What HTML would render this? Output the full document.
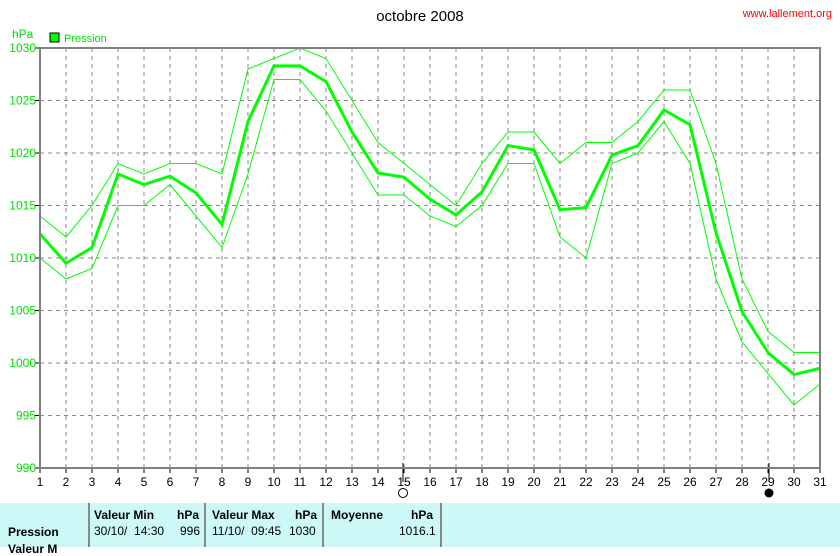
<!DOCTYPE html><html><head><style>
body{margin:0;background:#fff;width:840px;height:547px;overflow:hidden;font-family:"Liberation Sans",sans-serif;position:relative}
.t{position:absolute;font-size:12px;white-space:nowrap}
</style></head><body>
<svg width="840" height="547" style="position:absolute;left:0;top:0" id="s">
<rect x="0" y="503" width="840" height="44" fill="#ccf8f8"/>
<g stroke="#888" stroke-width="2"><line x1="89" y1="503" x2="89" y2="547"/><line x1="205" y1="503" x2="205" y2="547"/><line x1="323" y1="503" x2="323" y2="547"/><line x1="441" y1="503" x2="441" y2="547"/></g>
<g id="g"></g>
<rect x="40" y="48" width="780" height="420" fill="none" stroke="#808080" stroke-width="2"/>
<rect x="50" y="33" width="9" height="9" fill="#00ff00" stroke="#000"/>
<circle cx="403" cy="493" r="4.5" fill="#fff" stroke="#000"/>
<circle cx="769" cy="493" r="4.5" fill="#000"/>
<text x="420" y="21" font-size="15" text-anchor="middle" font-family="Liberation Sans">octobre 2008</text>
<text x="832" y="17" font-size="11" text-anchor="end" fill="#ff0000" font-family="Liberation Sans">www.lallement.org</text>
<text x="64" y="42" font-size="11" fill="#00e000" font-family="Liberation Sans">Pression</text>
<text x="12" y="38" font-size="12" fill="#00e000" font-family="Liberation Sans">hPa</text>
<g id="l" font-size="12" font-family="Liberation Sans"></g>
</svg>
<div class="t" style="left:94px;top:508px;font-weight:bold">Valeur Min</div>
<div class="t" style="left:177px;top:508px;font-weight:bold">hPa</div>
<div class="t" style="left:212px;top:508px;font-weight:bold">Valeur Max</div>
<div class="t" style="left:295px;top:508px;font-weight:bold">hPa</div>
<div class="t" style="left:331px;top:508px;font-weight:bold">Moyenne</div>
<div class="t" style="left:411px;top:508px;font-weight:bold">hPa</div>
<div class="t" style="left:8px;top:525px;font-weight:bold">Pression</div>
<div class="t" style="left:94px;top:524px">30/10/&nbsp; 14:30</div>
<div class="t" style="left:180px;top:524px">996</div>
<div class="t" style="left:212px;top:524px">11/10/&nbsp; 09:45</div>
<div class="t" style="left:289px;top:524px">1030</div>
<div class="t" style="left:399px;top:524px">1016.1</div>
<div class="t" style="left:8px;top:542px;font-weight:bold">Valeur M</div>
<script>
var g=document.getElementById('g'),l=document.getElementById('l'),h='',t='';
function X(d){return 40+(d-1)*26}function Y(v){return 48+(1030-v)*10.5}
for(var d=2;d<=31;d++)h+='<line x1="'+X(d)+'" y1="48" x2="'+X(d)+'" y2="468" stroke="#888" stroke-dasharray="4,4"/>';
for(var v=995;v<1030;v+=5)h+='<line x1="40" y1="'+Y(v)+'" x2="820" y2="'+Y(v)+'" stroke="#888" stroke-dasharray="4,4"/>';
for(var d=1;d<=31;d++){h+='<line x1="'+X(d)+'" y1="468" x2="'+X(d)+'" y2="473" stroke="#000"/>';t+='<text x="'+X(d)+'" y="486" text-anchor="middle">'+d+'</text>';}
h+='<line x1="403" y1="463" x2="403" y2="482" stroke="#000"/><line x1="769" y1="463" x2="769" y2="482" stroke="#000"/>';
for(var v=990;v<=1030;v+=5){t+='<text x="36" y="'+(Y(v)+4)+'" text-anchor="end" fill="#00e000">'+v+'</text>';h+='<line x1="35" y1="'+Y(v)+'" x2="40" y2="'+Y(v)+'" stroke="#000"/>';}
var mid=[1012.3,1009.5,1011,1018,1017,1017.8,1016.2,1013.2,1023,1028.3,1028.3,1026.8,1022,1018.1,1017.7,1015.6,1014.1,1016.3,1020.7,1020.3,1014.6,1014.8,1019.8,1020.7,1024.1,1022.7,1012.4,1004.9,1001,998.9,999.5];
var mx=[1014,1012,1015,1019,1018,1019,1019,1018,1028,1029,1030,1029,1025,1021,1019,1017,1015,1019,1022,1022,1019,1021,1021,1023,1026,1026,1019,1008,1003,1001,1001];
var mn=[1010,1008,1009,1015,1015,1017,1014,1011,1018,1027,1027,1024,1020,1016,1016,1014,1013,1015,1019,1019,1012,1010,1019,1020,1023,1019,1008,1002,999,996,998];
function P(a,w){return '<polyline fill="none" stroke="#00ff00" stroke-width="'+w+'" points="'+a.map(function(v,i){return X(i+1)+','+Y(v)}).join(' ')+'"/>'}
h+=P(mx,1)+P(mn,1)+P(mid,3);
g.innerHTML=h;l.innerHTML=t;
</script>
</body></html>
